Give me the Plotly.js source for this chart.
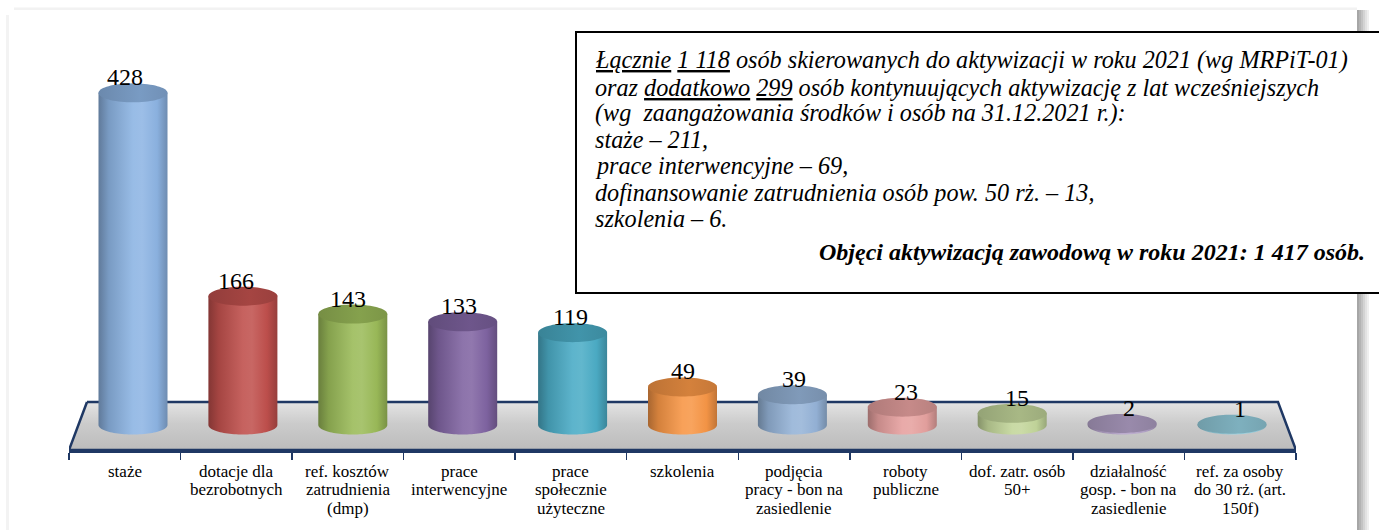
<!DOCTYPE html>
<html>
<head>
<meta charset="utf-8">
<script src="https://cdn.plot.ly/plotly-3.0.1.min.js"></script>
<style>html,body{margin:0;padding:0;background:#fff}#chart{width:1379px;height:530px}</style>
</head>
<body>
<div id="chart"></div>
<script>
// ---- data ----
const categories = [
  "staże",
  "dotacje dla<br>bezrobotnych",
  "ref. kosztów<br>zatrudnienia<br>(dmp)",
  "prace<br>interwencyjne",
  "prace<br>społecznie<br>użyteczne",
  "szkolenia",
  "podjęcia<br>pracy - bon na<br>zasiedlenie",
  "roboty<br>publiczne",
  "dof. zatr. osób<br>50+",
  "działalność<br>gosp. - bon na<br>zasiedlenie",
  "ref. za osoby<br>do 30 rż. (art.<br>150f)"
];
const values = [428, 166, 143, 133, 119, 49, 39, 23, 15, 2, 1];
const barColors = ["#8db4e3", "#c0504d", "#9bbb59", "#8064a2", "#4bacc6", "#f79646",
                   "#95b3d7", "#e6a19f", "#c3d69b", "#b2a1c7", "#93cddd"];
const noteLines = [
  "<i><u>Łącznie</u> <u>1 118</u> osób skierowanych do aktywizacji w roku 2021 (wg MRPiT-01)</i>",
  "<i>oraz <u>dodatkowo</u> <u>299</u> osób kontynuujących aktywizację z lat wcześniejszych</i>",
  "<i>(wg  zaangażowania środków i osób na 31.12.2021 r.):</i>",
  "<i>staże – 211,</i>",
  "<i>prace interwencyjne – 69,</i>",
  "<i>dofinansowanie zatrudnienia osób pow. 50 rż. – 13,</i>",
  "<i>szkolenia – 6.</i>"
];
const noteSummary = "<b><i>Objęci aktywizacją zawodową w roku 2021: 1 417 osób.</i></b>";

// ---- geometry (pixels) ----
const SERIF = 'Liberation Serif';
const W = 1379, H = 530;
const M = {l: 69, r: 83, t: 10, b: 80};
const plotW = W - M.l - M.r, plotH = H - M.t - M.b;
const baseY = 425;            // pixel row of value 0 (cylinder base centre)
const k = 0.776;              // px per unit
const yRange = [-(H - M.b - baseY) / k, (baseY - M.t) / k];
const c0 = 133, pitch = 109.9; // cylinder centre positions
const x2Range = [(M.l - c0) / pitch, (W - M.r - c0) / pitch];
const semiW = 34.5 / pitch, semiH = 9.5 / k;
const xp = px => (px - M.l) / plotW;
const yp = py => (H - M.b - py) / plotH;
const x2 = px => (px - c0) / pitch;
const y2 = py => (baseY - py) / k;

function hex2rgb(h){h=h.replace('#','');return [0,2,4].map(i=>parseInt(h.substr(i,2),16));}
function mix(h, t, f){const a=hex2rgb(h), b=t==='w'?[255,255,255]:[0,0,0];
  return 'rgb('+a.map((v,i)=>Math.round(v+(b[i]-v)*f)).join(',')+')';}

const traces = [];
// floor
traces.push({
  type: 'scatter', xaxis: 'x2', yaxis: 'y', mode: 'lines', hoverinfo: 'skip',
  x: [x2(87), x2(1278), x2(1296), x2(69), x2(87)],
  y: [y2(402), y2(402), y2(450), y2(450), y2(402)],
  fill: 'toself',
  fillgradient: {type: 'vertical', colorscale: [[0, '#bcbcbc'], [0.55, '#cbcbcb'], [1, '#e4e4e4']]},
  line: {color: '#1f3864', width: 2.5}, showlegend: false, cliponaxis: false
});
// cylinders
values.forEach((v, i) => {
  const col = barColors[i];
  const bx = [], by = [];
  bx.push(i - semiW); by.push(v);
  bx.push(i - semiW); by.push(0);
  const N = 48;
  for (let j = 0; j <= N; j++) {
    const t = Math.PI + Math.PI * j / N;
    bx.push(i + semiW * Math.cos(t)); by.push(semiH * Math.sin(t));
  }
  bx.push(i + semiW); by.push(v);
  bx.push(i - semiW); by.push(v);
  traces.push({
    type: 'scatter', xaxis: 'x2', yaxis: 'y', mode: 'none', hoverinfo: 'skip',
    x: bx, y: by, fill: 'toself',
    fillgradient: {type: 'horizontal', colorscale: [
      [0, mix(col, 'k', 0.32)], [0.15, mix(col, 'k', 0.14)], [0.5, mix(col, 'w', 0.1)],
      [0.63, mix(col, 'w', 0.13)], [0.85, mix(col, 'k', 0.02)], [1, mix(col, 'k', 0.22)]]},
    showlegend: false, cliponaxis: false
  });
  const ex = [], ey = [];
  for (let j = 0; j <= 72; j++) {
    const t = 2 * Math.PI * j / 72;
    ex.push(i + semiW * Math.cos(t)); ey.push(v + semiH * Math.sin(t));
  }
  traces.push({
    type: 'scatter', xaxis: 'x2', yaxis: 'y', mode: 'none', hoverinfo: 'skip',
    x: ex, y: ey, fill: 'toself',
    fillgradient: {type: 'horizontal', colorscale: [
      [0, mix(col, 'k', 0.24)], [0.6, mix(col, 'k', 0.14)], [1, mix(col, 'k', 0.2)]]},
    showlegend: false, cliponaxis: false
  });
});
// category anchor trace (invisible)
traces.push({
  type: 'scatter', xaxis: 'x', yaxis: 'y', mode: 'markers', hoverinfo: 'skip',
  x: categories, y: values, marker: {opacity: 0, size: 1}, showlegend: false
});

const shapes = [];
// faint outer frame
shapes.push({type: 'rect', xref: 'paper', yref: 'paper', layer: 'below',
  x0: xp(14), x1: xp(1357), y0: yp(7.5), y1: yp(10), fillcolor: '#f2f2f2', line: {width: 0}});
shapes.push({type: 'rect', xref: 'paper', yref: 'paper', layer: 'below',
  x0: xp(6), x1: xp(9), y0: yp(15), y1: yp(530), fillcolor: '#f3f3f3', line: {width: 0}});
// right shadow band
const shadeCols = ['#a6a6a6', '#b4b4b4', '#c3c3c3', '#d3d3d3', '#e2e2e2', '#efefef'];
shadeCols.forEach((c, j) => {
  shapes.push({type: 'rect', xref: 'paper', yref: 'paper', layer: 'below',
    x0: xp(1357 + 2 * j), x1: xp(1359 + 2 * j), y0: yp(10), y1: yp(530),
    fillcolor: c, line: {width: 0}});
});
// note box
shapes.push({type: 'rect', xref: 'paper', yref: 'paper', layer: 'above',
  x0: xp(576), x1: xp(1390), y0: yp(32), y1: yp(293),
  fillcolor: '#ffffff', line: {color: '#000', width: 2}});

const annotations = [];
// value labels above cylinder tops
values.forEach((v, i) => {
  annotations.push({
    xref: 'x', yref: 'y', x: categories[i], y: v + semiH, yshift: 6,
    xanchor: 'center', yanchor: 'middle', showarrow: false, text: String(v),
    font: {family: SERIF, size: 24, color: '#000'}
  });
});
// category labels (one annotation per line, tight line spacing)
categories.forEach((c, i) => {
  c.split('<br>').forEach((ln, j) => {
    annotations.push({
      xref: 'x', yref: 'paper', x: c, y: yp(471 + 18.7 * j),
      xanchor: 'center', yanchor: 'middle', showarrow: false, text: ln,
      font: {family: SERIF, size: 17, color: '#000'}
    });
  });
});
// note text
const lineY = [60, 87, 113, 140, 166, 192, 218];
noteLines.forEach((t, j) => annotations.push({
  xref: 'paper', yref: 'paper', x: xp(593), y: yp(lineY[j]),
  xanchor: 'left', yanchor: 'middle', showarrow: false, text: t,
  font: {family: SERIF, size: 24.2, color: '#000'}
}));
annotations.push({
  xref: 'paper', yref: 'paper', x: xp(1367), y: yp(252),
  xanchor: 'right', yanchor: 'middle', showarrow: false, text: noteSummary,
  font: {family: SERIF, size: 24, color: '#000'}
});

const layout = {
  width: W, height: H, margin: M,
  paper_bgcolor: '#fff', plot_bgcolor: 'rgba(0,0,0,0)',
  showlegend: false, hovermode: false,
  font: {family: SERIF},
  xaxis: {type: 'category', range: [-0.5, 10.5], showgrid: false, zeroline: false,
    showline: true, linecolor: '#1f3864', linewidth: 2.5,
    ticks: 'outside', tickson: 'boundaries', ticklen: 7, tickwidth: 1.5, tickcolor: '#1f3864',
    showticklabels: false, fixedrange: true},
  xaxis2: {overlaying: 'x', range: x2Range, visible: false, fixedrange: true},
  yaxis: {range: yRange, visible: false, fixedrange: true},
  shapes: shapes, annotations: annotations
};
Plotly.newPlot('chart', traces, layout, {staticPlot: true, displayModeBar: false});
</script>
</body>
</html>
